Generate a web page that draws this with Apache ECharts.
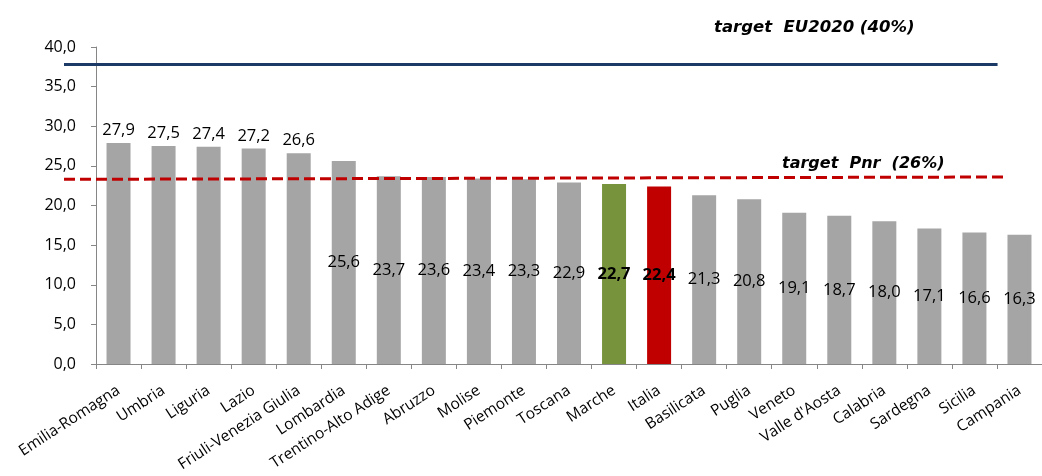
<!DOCTYPE html>
<html>
<head>
<meta charset="utf-8">
<script src="https://cdn.jsdelivr.net/npm/echarts@6/dist/echarts.min.js"></script>
<style>html,body{margin:0;padding:0;background:#fff}#c{width:1042px;height:476px}</style>
</head>
<body>
<div id="c"></div>
<script>
const categories = ["Emilia-Romagna","Umbria","Liguria","Lazio","Friuli-Venezia Giulia","Lombardia","Trentino-Alto Adige","Abruzzo","Molise","Piemonte","Toscana","Marche","Italia","Basilicata","Puglia","Veneto","Valle d'Aosta","Calabria","Sardegna","Sicilia","Campania"];
const values = [27.9,27.5,27.4,27.2,26.6,25.6,23.7,23.6,23.4,23.3,22.9,22.7,22.4,21.3,20.8,19.1,18.7,18.0,17.1,16.6,16.3];
const yTicks = [0,5,10,15,20,25,30,35,40];
// reference lines: [position along span (0-100), value]
const eu2020Line = [[0,37.8],[99,37.8]];
const pnrLine = [[0,23.3],[100,23.6]];
const eu2020Text = "target  EU2020 (40%)";
const pnrText = "target  Pnr  (26%)";

const highlight = {"Marche":"#77933C","Italia":"#C00000"};
const fmt = v => v.toFixed(1).replace('.', ',');
const font = "Open Sans";

const barData = values.map((v,i) => {
  const name = categories[i];
  const top = i < 5;
  return {
    value: v,
    itemStyle: {color: highlight[name] || '#A5A5A5'},
    label: {
      position: top ? 'top' : 'inside',
      fontWeight: highlight[name] ? 'bold' : 'normal'
    }
  };
});

const chart = echarts.init(document.getElementById('c'), null, {renderer:'canvas'});
chart.setOption({
  animation: false,
  backgroundColor: '#fff',
  grid: [
    {left: 96, top: 47, width: 952, height: 317, containLabel: false},
    {left: 64, top: 47, width: 943, height: 317, containLabel: false}
  ],
  xAxis: [
    {
      type: 'category', data: categories, gridIndex: 0,
      axisLine: {lineStyle: {color: '#868686', width: 1}},
      axisTick: {show: true, length: 5, lineStyle: {color: '#868686'}},
      axisLabel: {rotate: 33, interval: 0, fontSize: 15.5, color: '#000', fontFamily: font, margin: 25}
    },
    {type: 'value', gridIndex: 1, min: 0, max: 100, show: false}
  ],
  yAxis: [
    {
      type: 'value', gridIndex: 0, min: yTicks[0], max: yTicks[yTicks.length-1], interval: 5,
      axisLine: {show: true, lineStyle: {color: '#868686'}},
      axisTick: {show: true, length: 5, lineStyle: {color: '#868686'}},
      splitLine: {show: false},
      axisLabel: {formatter: fmt, fontSize: 16, color: '#000', fontFamily: font, margin: 20}
    },
    {type: 'value', gridIndex: 1, min: 0, max: 40, show: false}
  ],
  series: [
    {
      type: 'bar', xAxisIndex: 0, yAxisIndex: 0, data: barData, barWidth: 24,
      label: {show: true, formatter: p => fmt(p.value), fontSize: 16.5, color: '#000', fontFamily: font, distance: 4}
    },
    {
      type: 'line', xAxisIndex: 1, yAxisIndex: 1, data: eu2020Line, symbol: 'none', z: 5,
      lineStyle: {color: '#1B3A66', width: 3}
    },
    {
      type: 'line', xAxisIndex: 1, yAxisIndex: 1, data: pnrLine, symbol: 'none', z: 5,
      lineStyle: {color: '#C00000', width: 3, type: [11, 5]}
    }
  ],
  graphic: [
    {type: 'text', left: 714, top: 19, style: {text: eu2020Text, font: 'italic bold 16.5px "DejaVu Sans"', fill: '#000'}},
    {type: 'text', left: 782, top: 156, style: {text: pnrText, font: 'italic bold 16px "DejaVu Sans"', fill: '#000'}}
  ]
});
</script>
</body>
</html>
